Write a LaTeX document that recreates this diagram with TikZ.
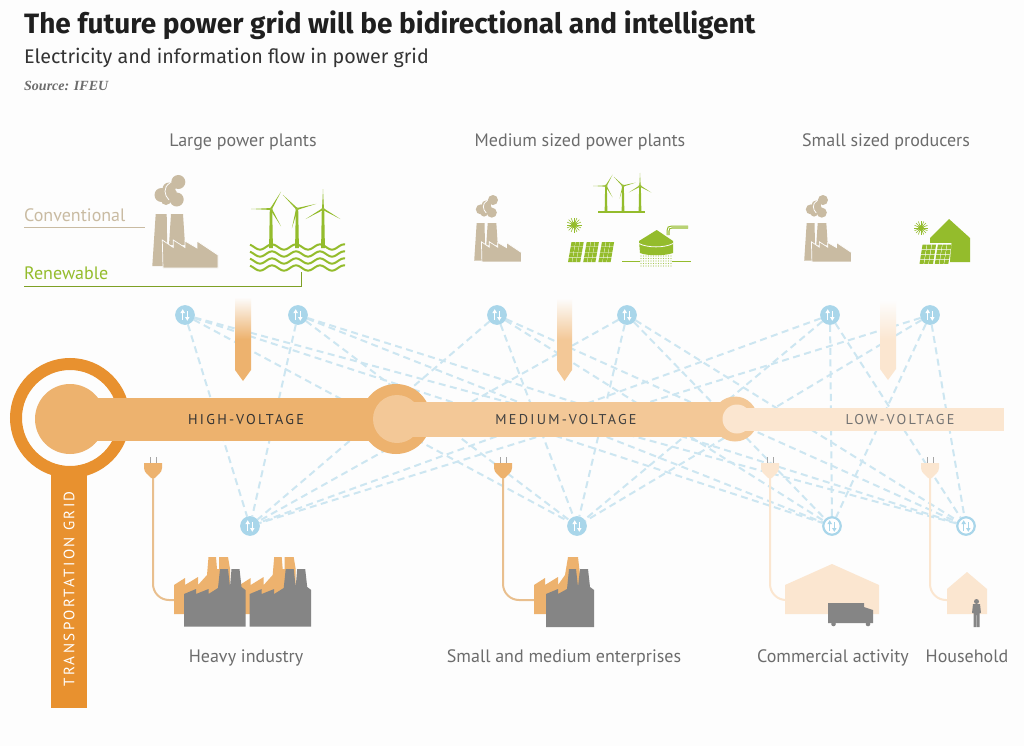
\documentclass[tikz,border=0pt]{standalone}
\usepackage{fontspec}
\setmainfont{PT Sans}
\newfontfamily\titlefont{Fira Sans}
\newfontfamily\srcfont{Liberation Serif}
\usetikzlibrary{calc}
\definecolor{bgc}{HTML}{FDFDFD}
\definecolor{hv}{HTML}{EDB26E}
\definecolor{mv}{HTML}{F3C897}
\definecolor{lv}{HTML}{FBE6D0}
\definecolor{tg}{HTML}{E8912F}
\definecolor{tan}{HTML}{C9BBA2}
\definecolor{grn}{HTML}{94BC2C}
\definecolor{net}{HTML}{CDE6F1}
\definecolor{netn}{HTML}{A9D6EA}
\definecolor{lab}{HTML}{6C6C6C}
\definecolor{fgray}{HTML}{858585}
\definecolor{wire}{HTML}{E9BF8E}
\pgfdeclarelayer{pagelayer}
\pgfdeclarelayer{netlayer}
\pgfsetlayers{pagelayer,netlayer,main}
\tikzset{
  netnode/.style={circle,draw=netn,line width=2.2pt,fill=#1,minimum size=17.5pt,inner sep=0pt},
  netedge/.style={draw=net,line width=2pt,dash pattern=on 7pt off 4.5pt},
  head/.style={text=lab,font=\fontsize{18}{20}\selectfont,anchor=base,inner sep=0pt},
  volt/.style={font=\fontsize{14.2}{16}\selectfont\addfontfeature{LetterSpace=16},inner sep=0pt},
  plugwire/.style={line width=2pt,rounded corners=16pt},
  pics/plant/.style={code={
    \fill[tan] (3.7,39) -- (14.7,39) -- (15.5,91) -- (0.3,91) -- cycle;
    \fill[tan] (19,39) -- (31,39) -- (33,70) -- (17,70) -- cycle;
    \fill[tan,draw=bgc,line width=.7pt] (10.3,65) -- (21.3,72.5) -- (21.3,65) -- (33,72.5) -- (33,66) -- (45,73) -- (45,66) -- (66,80) -- (66,93) -- (11,93) -- cycle;
    \fill[tan] (26.3,7) circle (7) (24.7,24.5) circle (7) (9.5,20) circle (7) (17,14) circle (6.5) (14,25) circle (5) (19,19) circle (6);
    \draw[bgc,line width=.8pt] (18,8) .. controls (11,12) and (12,20) .. (17,25);
  }},
  pics/factoryback/.style={code={
    \fill[hv] (0,28) -- (11,21) -- (11,28) -- (24,20) -- (24,28) -- (33,18) -- (34.5,0) -- (42,0) -- (43,12) -- (45,12) -- (45,0) -- (54,0) -- (56,12) -- (56,40) -- (45,57) -- (0,57) -- cycle;
  }},
  pics/factoryfront/.style={code={
    \fill[fgray] (10,37) -- (22,32) -- (22,37) -- (34.5,32) -- (34.5,37) -- (44,31) -- (46,12) -- (54,12) -- (56,30) -- (57.5,12) -- (65.5,12) -- (67.5,30) -- (71.5,33) -- (71.5,69.5) -- (10,69.5) -- cycle;
  }},
  pics/smallfactory/.style={code={
    \fill[hv] (0,28) -- (11,21) -- (11,28) -- (24,20) -- (24,28) -- (31,18) -- (34,0) -- (44,0) -- (46,18) -- (46,57) -- (0,57) -- cycle;
    \fill[fgray] (12,37) -- (24,32) -- (24,37) -- (33,32) -- (35,12) -- (42,12) -- (44,30) -- (46,12) -- (54,12) -- (56,30) -- (60,33) -- (60,70) -- (12,70) -- cycle;
  }},
  pics/plug/.style={code={
    \draw[line width=1pt,gray!70] (-3,-10) -- (-3,-4) (3,-10) -- (3,-4);
    \fill (-9,-4) -- (9,-4) -- (9,1) .. controls (9,6) and (4,8) .. (2,11) -- (-2,11) .. controls (-4,8) and (-9,6) .. (-9,1) -- cycle;
  }}
}
\newcommand{\turbine}[6]{% x y base len w angles
  \coordinate (h) at (#1,#2);
  \fill[grn] (#1-#5*.5,#2) -- (#1+#5*.5,#2) -- (#1+#5*.8,#3) -- (#1-#5*.8,#3) -- cycle;
  \foreach \a in {#6}{
    \fill[grn] ([shift={(-\a+90:#5*.4)}]h) -- ([shift={(-\a:#4)}]h) -- ([shift={(-\a-90:#5*.4)}]h) -- cycle;
  }
  \fill[bgc,draw=grn,line width=.6pt] (h) circle (1.1);
}
\newcommand{\sunray}[3]{%
  \foreach \a in {0,22.5,...,337.5}{\draw[grn,line width=.6pt] (#1,#2) -- ++(\a:#3);}
  \fill[grn] (#1,#2) circle (#3*.42);
}
\newcommand{\arrowsin}[2]{%
  \draw[#2,line width=1.2pt] ([xshift=-2.3pt,yshift=-4.5pt]#1.center) -- ([xshift=-2.3pt,yshift=3.5pt]#1.center);
  \draw[#2,line width=1.2pt] ([xshift=2.3pt,yshift=-3.5pt]#1.center) -- ([xshift=2.3pt,yshift=4.5pt]#1.center);
  \fill[#2] ([xshift=-4.6pt,yshift=2pt]#1.center) -- ([xshift=0pt,yshift=2pt]#1.center) -- ([xshift=-2.3pt,yshift=5.8pt]#1.center) -- cycle;
  \fill[#2] ([xshift=0pt,yshift=-2pt]#1.center) -- ([xshift=4.6pt,yshift=-2pt]#1.center) -- ([xshift=2.3pt,yshift=-5.8pt]#1.center) -- cycle;
}
\begin{document}
\begin{tikzpicture}[x=1pt,y=-1pt]
\useasboundingbox (0,0) rectangle (1024,746);
\begin{pgfonlayer}{pagelayer}
\fill[bgc] (0,0) rectangle (1024,746);
\end{pgfonlayer}

% titles
\node[anchor=west,inner sep=0pt,font=\titlefont\bfseries\fontsize{28}{30}\selectfont,text=black!88] (title) at (24,25) {The future power grid will be bidirectional and intelligent};
\node[anchor=west,inner sep=0pt,font=\titlefont\fontsize{19.7}{22}\selectfont,text=black!80] (subtitle) at (24,57.5) {Electricity and information flow in power grid};
\node[anchor=west,inner sep=0pt,font=\srcfont\itshape\bfseries\fontsize{14}{16}\selectfont,text=lab] (source) at (24,85.5) {Source: IFEU};

% column heads
\node[head] (hlarge) at (243,147) {Large power plants};
\node[head] (hmed) at (580,147) {Medium sized power plants};
\node[head] (hsmall) at (886,147) {Small sized producers};

% legend
\node[anchor=base west,inner sep=0pt,text=tan,font=\fontsize{18}{20}\selectfont] (conv) at (24,221) {Conventional};
\node[anchor=base west,inner sep=0pt,text=grn,font=\fontsize{18}{20}\selectfont] (renew) at (24,279) {Renewable};
\coordinate (c1) at (24,227.5); \coordinate (c2) at (145,227.5);
\draw[tan,line width=1pt] (c1) -- (c2);
\coordinate (r1) at (24,286); \coordinate (r2) at (301,272);
\draw[grn!85!black,line width=1pt] (r1) -| (r2);

% network nodes
\foreach \n/\x/\y in {t1/185/315,t2/298/315,t3/497/315,t4/627/315,t5/830/315,t6/930/315,b1/250/526,b2/577/526}{
  \node[netnode=netn] (\n) at (\x,\y) {};
  \arrowsin{\n}{white}
}
\foreach \n/\x/\y in {b3/832/526,b4/966/526}{
  \node[netnode=white] (\n) at (\x,\y) {};
  \arrowsin{\n}{netn}
}
\begin{pgfonlayer}{netlayer}
\foreach \a in {t1,t2,t3,t4,t5,t6}{
  \foreach \b in {b1,b2,b3,b4}{
    \draw[netedge] (\a) -- (\b);
  }
}
\end{pgfonlayer}

% plants
\pic[shift={(152,175)}] {plant};
\pic[shift={(474,195)},scale=.72] {plant};
\pic[shift={(804,195)},scale=.72] {plant};

% offshore wind
\foreach \yy in {247,254,261,268}{
  \draw[grn,line width=2pt] plot[domain=250:345,samples=70,smooth] (\x,{\yy+2.6*sin(15*(\x-250)-60)});
}
\turbine{271}{209}{248}{20}{2.4}{180,60,-60}
\turbine{297}{209}{248}{20}{2.4}{135,15,-105}
\turbine{323}{209}{248}{20}{2.4}{90,-30,210}

% medium wind
\turbine{606}{186}{212}{13}{1.7}{180,60,-60}
\turbine{623}{186}{212}{13}{1.7}{135,15,-105}
\turbine{640}{186}{212}{13}{1.7}{90,-30,210}
\draw[grn,line width=1.2pt] (598,212) -- (645,212);

% medium solar
\sunray{574}{225}{7.5}
\foreach \p in {0,1,2}{
  \foreach \i in {0,1,2}{
    \foreach \j in {0,1,2,3}{
      \pgfmathsetmacro{\cx}{568+\p*15.2+\i*4.2+(3-\j)*.9}
      \pgfmathsetmacro{\cy}{242+\j*5.2}
      \fill[grn] (\cx,\cy+4.6) -- (\cx+.8,\cy) -- (\cx+4.6,\cy) -- (\cx+3.8,\cy+4.6) -- cycle;
    }
  }
}

% biogas
\fill[grn] (639,241) -- (656.7,230) -- (673,241) -- (673,253) .. controls (665,256) and (647,256) .. (640,253) -- cycle;
\draw[bgc,line width=.8pt] (639,243.5) .. controls (647,248) and (665,248) .. (673,243.5);
\draw[grn,line width=3pt] (668,235) -- (668,231) .. controls (668,228) and (669,227) .. (672,227) -- (688,227);
\draw[bgc,line width=.8pt] (668,235) -- (668,231) .. controls (668,228) and (669,227) .. (672,227) -- (688,227);
\draw[grn,line width=1pt] (622,261) -- (640,261) (672,261) -- (691,261);
\foreach \xx in {641,643.5,...,671}{
  \foreach \yy in {256,258.5,...,268}{
    \fill[grn!80] (\xx,\yy) circle (.55);
  }
}

% small: house with solar
\fill[grn] (930,238) -- (949,219) -- (970,238) -- (970,262) -- (930,262) -- cycle;
\sunray{921}{228}{7}
\fill[bgc] (921.5,243) -- (951.5,243) -- (949.5,265) -- (918,265) -- cycle;
\foreach \p in {0,1}{
  \foreach \i in {0,1,2}{
    \foreach \j in {0,1,2,3}{
      \pgfmathsetmacro{\cx}{919.5+\p*15.3+\i*4.7+(3-\j)*.8}
      \pgfmathsetmacro{\cy}{244.5+\j*5}
      \fill[grn] (\cx,\cy+4.3) -- (\cx+.7,\cy) -- (\cx+4.8,\cy) -- (\cx+4.1,\cy+4.3) -- cycle;
    }
  }
}

% down arrows
\shade[top color=bgc,bottom color=hv,middle color=hv] (235,297) -- (251,297) -- (251,370) -- (243,381) -- (235,370) -- cycle;
\shade[top color=bgc,bottom color=mv,middle color=mv] (557,298) -- (572,298) -- (572,370) -- (564.5,381) -- (557,370) -- cycle;
\shade[top color=bgc,bottom color=lv,middle color=lv] (880,300) -- (896,300) -- (896,369) -- (888,380) -- (880,369) -- cycle;

% transport grid and buses
\fill[tg] (51,460) rectangle (87,708);
\fill[bgc,draw=tg,line width=12pt] (70,418) circle (54);
\fill[hv] (70,419) circle (35);
\fill[lv] (735,408) rectangle (1004,431);
\fill[hv] (96,398) rectangle (396,441);
\fill[hv] (396,419) circle (35);
\fill[mv] (397,402) rectangle (735,437);
\fill[mv] (397,419) circle (24);
\fill[mv] (735,419) circle (22.5);
\fill[lv] (737,408) rectangle (760,431);
\fill[lv] (737,419) circle (14.5);
\node[volt,text=black!80] (hvl) at (246,420) {HIGH-VOLTAGE};
\node[volt,text=black!75] (mvl) at (566,420) {MEDIUM-VOLTAGE};
\node[volt,text=black!55] (lvl) at (900,420) {LOW-VOLTAGE};
\node[rotate=90,text=white,font=\fontsize{15}{16}\selectfont\addfontfeature{LetterSpace=16},inner sep=0pt] (tgl) at (69,589) {TRANSPORTATION GRID};

% consumers
\pic[shift={(174,557)}] {factoryback};
\pic[shift={(239.7,557)}] {factoryback};
\pic[shift={(174,557)}] {factoryfront};
\pic[shift={(239.7,557)}] {factoryfront};
\pic[shift={(534,557)}] {smallfactory};
\fill[lv] (785,585) -- (832,564) -- (879,585) -- (879,614) -- (785,614) -- cycle;
\fill[fgray] (828,603) -- (864,603) -- (864,607) -- (873,610) -- (873,623) -- (828,623) -- cycle;
\fill[fgray] (833.5,624) circle (2.3) (868,624) circle (2.3);
\fill[lv] (947,589) -- (967,572) -- (987,589) -- (987,614) -- (947,614) -- cycle;
\fill[fgray] (976.5,601.5) circle (2.5);
\fill[fgray] (973,604) -- (980,604) -- (981,613) -- (979.5,613) -- (979.5,627) -- (977,627) -- (977,615) -- (976.5,615) -- (976.5,627) -- (973.5,627) -- (973.5,613) -- (972,613) -- cycle;

% plugs and wires
\coordinate (p1) at (153,475); \coordinate (w1) at (174,600);
\coordinate (p2) at (503,475); \coordinate (w2) at (534,600);
\coordinate (p3) at (770,475); \coordinate (w3) at (785,600);
\coordinate (p4) at (930,475); \coordinate (w4) at (947,600);
\draw[plugwire,wire] (p1) |- (w1);
\draw[plugwire,wire] (p2) |- (w2);
\draw[plugwire,lv] (p3) |- (w3);
\draw[plugwire,lv] (p4) |- (w4);
\pic[fill=hv,shift={(153,467)}] {plug};
\pic[fill=hv,shift={(503,467)}] {plug};
\pic[fill=lv,shift={(770,467)}] {plug};
\pic[fill=lv,shift={(930,467)}] {plug};

% bottom labels
\node[head] (l1) at (246,662) {Heavy industry};
\node[head] (l2) at (564,662) {Small and medium enterprises};
\node[head] (l3) at (833,662) {Commercial activity};
\node[head] (l4) at (967,662) {Household};
\end{tikzpicture}
\end{document}
